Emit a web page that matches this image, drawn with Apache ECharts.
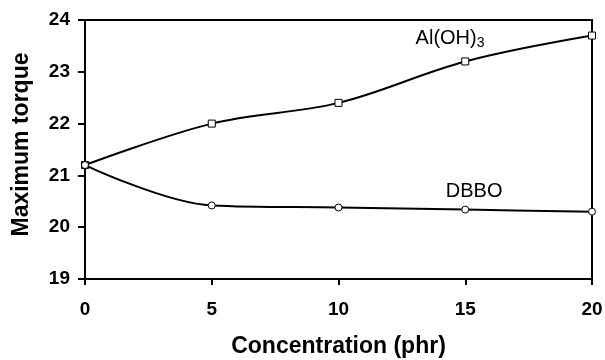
<!DOCTYPE html>
<html><head><meta charset="utf-8">
<script src="https://cdn.jsdelivr.net/npm/echarts@6/dist/echarts.min.js"></script>
<style>html,body{margin:0;padding:0;background:#fff}#c{width:605px;height:360px}</style>
</head><body><div id="c"></div>
<script>
var concentration = [0, 5, 10, 15, 20];
var alOH3 = [21.2, 22.0, 22.4, 23.2, 23.7];
var dbbo = [21.2, 20.42, 20.38, 20.34, 20.3];
var xTicks = [0, 5, 10, 15, 20];
var yTicks = [19, 20, 21, 22, 23, 24];

var font = '"Liberation Sans", Arial, sans-serif';
var chart = echarts.init(document.getElementById('c'));
function pairs(ys){ return concentration.map(function(x,i){return [x, ys[i]];}); }
chart.setOption({
  animation: false,
  grid: {left: 85, right: 13, top: 20, bottom: 81, show: true, borderColor: '#000', borderWidth: 2,
         containLabel: false, outerBoundsMode: 'none'},
  xAxis: {
    type: 'value', min: xTicks[0], max: xTicks[xTicks.length-1], interval: xTicks[1]-xTicks[0],
    name: 'Concentration (phr)', nameLocation: 'middle', nameGap: 56,
    nameTextStyle: {fontFamily: font, fontWeight: 'bold', fontSize: 23, color: '#000'},
    axisLine: {lineStyle: {color: '#000', width: 2}},
    axisTick: {inside: false, length: 6, lineStyle: {color: '#000', width: 2}},
    axisLabel: {fontFamily: font, fontWeight: 'bold', fontSize: 19, color: '#000', margin: 21},
    splitLine: {show: false}
  },
  yAxis: {
    type: 'value', min: yTicks[0], max: yTicks[yTicks.length-1], interval: yTicks[1]-yTicks[0],
    name: 'Maximum torque', nameLocation: 'middle', nameGap: 52,
    nameTextStyle: {fontFamily: font, fontWeight: 'bold', fontSize: 23, color: '#000', padding: [0,0,0,10]},
    axisLine: {lineStyle: {color: '#000', width: 2}},
    axisTick: {length: 7, lineStyle: {color: '#000', width: 2}},
    axisLabel: {fontFamily: font, fontWeight: 'bold', fontSize: 19, color: '#000', margin: 15},
    splitLine: {show: false}
  },
  series: [
    {
      type: 'line', data: pairs(alOH3), smooth: 0.35,
      symbol: 'rect', symbolSize: 7,
      lineStyle: {color: '#000', width: 2},
      itemStyle: {color: '#fff', borderColor: '#000', borderWidth: 1},
      markPoint: {
        symbol: 'circle', symbolSize: 1,
        itemStyle: {color: 'rgba(0,0,0,0)'},
        data: [{coord: [14.4, 23.65]}],
        label: {show: true, position: 'inside',
          formatter: '{a|Al(OH)}{b|3}',
          rich: {a: {fontFamily: font, fontSize: 20, color: '#000'},
                 b: {fontFamily: font, fontSize: 14, color: '#000', padding: [10,0,0,0]}}}
      }
    },
    {
      type: 'line', data: pairs(dbbo), smooth: 0.35,
      symbol: 'circle', symbolSize: 7,
      lineStyle: {color: '#000', width: 2},
      itemStyle: {color: '#fff', borderColor: '#000', borderWidth: 1},
      markPoint: {
        symbol: 'circle', symbolSize: 1,
        itemStyle: {color: 'rgba(0,0,0,0)'},
        data: [{coord: [15.35, 20.68]}],
        label: {show: true, position: 'inside', formatter: 'DBBO',
          fontFamily: font, fontSize: 20, color: '#000'}
      }
    }
  ]
});
</script></body></html>
